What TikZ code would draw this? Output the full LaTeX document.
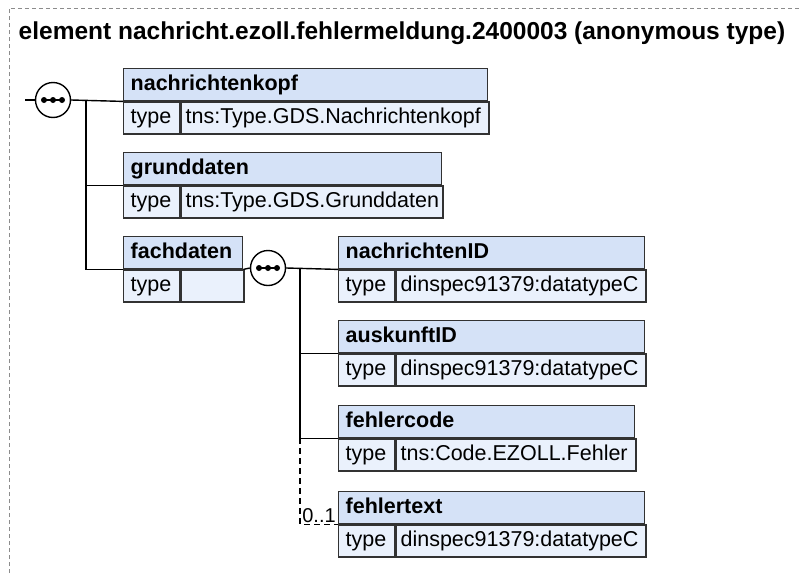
\documentclass[tikz,border=0pt]{standalone}
\usepackage{fontspec}
\setmainfont{Liberation Sans}
\usetikzlibrary{positioning}
\definecolor{boxline}{RGB}{50,50,50}
\definecolor{headfill}{RGB}{213,226,247}
\definecolor{rowfill}{RGB}{234,241,252}
\definecolor{framegray}{RGB}{140,140,140}
\tikzset{
    schema/.style={x=1pt, y=-1pt, line width=1.4pt, font=\fontsize{21.5}{25}\selectfont},
    elemhead/.style={draw=boxline, fill=headfill, anchor=north west, font=\fontsize{21.5}{25}\selectfont\bfseries,
        minimum height=32pt, inner xsep=7pt, inner ysep=0pt, text height=15.5pt, text depth=4.5pt, align=left},
    typecell/.style={draw=boxline, fill=rowfill, anchor=north west, minimum height=32pt,
        inner xsep=7pt, inner ysep=0pt, text height=15.5pt, text depth=4.5pt, text width=42pt, align=left},
    valcell/.style={typecell, inner xsep=4.5pt},
    seq/.style={draw, circle, fill=white, minimum size=35pt, inner sep=0pt},
    card/.style={font=\fontsize{20}{22}\selectfont, inner sep=1pt},
}
\begin{document}
\begin{tikzpicture}[schema]
    \useasboundingbox (0,0) rectangle (800,573);
    % frame and title
    \draw[framegray, line width=1pt, dash pattern=on 4pt off 3pt] (9,573) -- (9,8) -- (800,8);
    \node[anchor=base west, font=\fontsize{24.5}{28}\selectfont\bfseries, inner sep=0pt] (title) at (18,39)
        {element nachricht.ezoll.fehlermeldung.2400003 (anonymous type)};

    % first level
    \node[seq] (seqa) at (53,100) {};
    \node[elemhead, text width=350pt] (kopf) at (123,68) {nachrichtenkopf};
    \node[typecell] (kopft) at (kopf.south west) {type};
    \node[valcell, text width=299pt] (kopfv) at (kopft.north east) {tns:Type.GDS.Nachrichtenkopf};

    \node[elemhead, text width=304pt] (grund) at (123,152) {grunddaten};
    \node[typecell] (grundt) at (grund.south west) {type};
    \node[valcell, text width=253pt] (grundv) at (grundt.north east) {tns:Type.GDS.Grunddaten};

    \node[elemhead, text width=105pt] (fach) at (123,236) {fachdaten};
    \node[typecell] (facht) at (fach.south west) {type};
    \node[valcell, text width=54pt] (fachv) at (facht.north east) {};

    % second level
    \node[seq] (seqb) at (268,268) {};
    \node[elemhead, text width=292pt] (nid) at (338,236) {nachrichtenID};
    \node[typecell] (nidt) at (nid.south west) {type};
    \node[valcell, text width=241pt] (nidv) at (nidt.north east) {dinspec91379:datatypeC};

    \node[elemhead, text width=292pt] (ausk) at (338,320) {auskunftID};
    \node[typecell] (auskt) at (ausk.south west) {type};
    \node[valcell, text width=241pt] (auskv) at (auskt.north east) {dinspec91379:datatypeC};

    \node[elemhead, text width=282pt] (fcode) at (338,405) {fehlercode};
    \node[typecell] (fcodet) at (fcode.south west) {type};
    \node[valcell, text width=231pt] (fcodev) at (fcodet.north east) {tns:Code.EZOLL.Fehler};

    \node[elemhead, text width=292pt] (ftext) at (338,491) {fehlertext};
    \node[typecell] (ftextt) at (ftext.south west) {type};
    \node[valcell, text width=241pt] (ftextv) at (ftextt.north east) {dinspec91379:datatypeC};

    % sequence dots
    \foreach \s in {seqa,seqb} {
        \draw[line width=1.2pt] ([xshift=-9pt]\s.center) -- ([xshift=9pt]\s.center);
        \foreach \dx in {-9,0,9}
            \fill ([xshift=\dx pt]\s.center) circle (3pt);
    }

    % connectors
    \coordinate (stub) at (25,100);
    \coordinate (ja) at (86,100);
    \coordinate (jb) at (300,268);
    \draw (stub) -- (seqa.west);
    \draw (seqa.east) -- (kopf.south west);
    \draw (ja) |- (grund.south west);
    \draw (ja) |- (fach.south west);
    \draw (fach.south east) -- (seqb.west);
    \draw (seqb.east) -- (nid.south west);
    \draw (jb) |- (ausk.south west);
    \draw (jb) |- (fcode.south west);
    \draw[line width=1.2pt, dash pattern=on 6pt off 4pt] (jb |- fcode.south west) |- (ftext.south west)
        node[card, pos=0.75, above] {0..1};
\end{tikzpicture}
\end{document}
